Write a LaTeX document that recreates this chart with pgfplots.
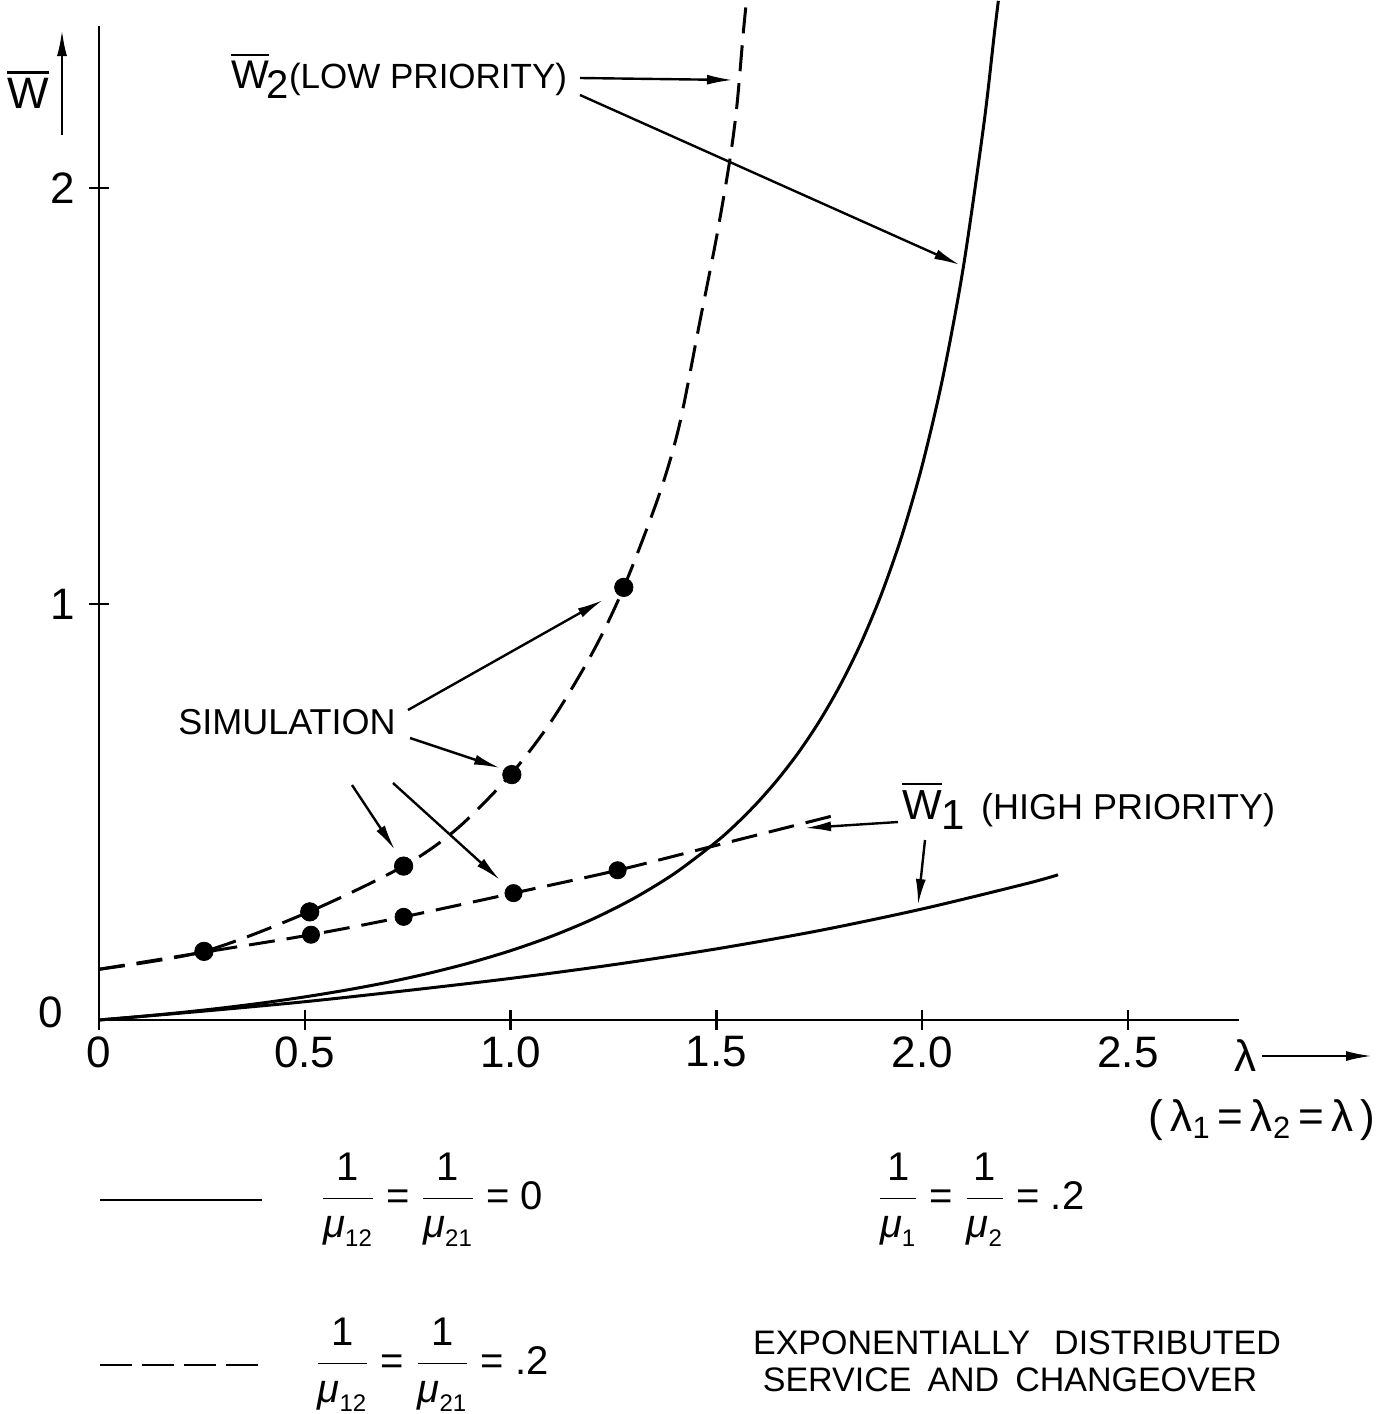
\documentclass[border=0pt]{standalone}
\usepackage{pgfplots}
\pgfplotsset{compat=1.18}
\usepackage{fontspec}
\setmainfont{Liberation Sans}
\usetikzlibrary{arrows.meta}
\newcommand{\Wbar}{\leavevmode\vbox{\hrule height 1.2pt\kern 2.5pt\hbox{W}}}
\newcommand{\fr}[1]{$\displaystyle\frac{\hbox{1}}{\hbox{\itshape μ}_{\hbox{\fontsize{12}{12}\selectfont #1}}}$}
\begin{document}
\begin{tikzpicture}[x=0.5pt,y=-0.5pt,
  ann/.style={line width=1.2pt,-{Latex[length=13pt,width=5pt]}}]
\useasboundingbox (0,0) rectangle (1395,1414);
\coordinate (O) at (99,1020);
\begin{axis}[at={(O)}, anchor=south west, scale only axis,
  width=570.07pt, height=497.1pt,
  xmin=0, xmax=2.77, ymin=0, ymax=2.39,
  axis x line=bottom, axis y line=left,
  axis line style={-, line width=1.4pt},
  clip=false, tick align=center, major tick length=10pt,
  every tick/.style={line width=1.2pt, black},
  xtick={0,0.5,1,1.5,2,2.5}, xticklabels={0,0.5,1.0,1.5,2.0,2.5},
  ytick={1,2}, yticklabels={1,2},
  extra y ticks={0}, extra y tick labels={0},
  extra y tick style={major tick length=0pt, yticklabel style={xshift=-11pt, yshift=4pt}},
  xticklabel style={font=\fontsize{22}{24}\selectfont, anchor=center, yshift=-11pt},
  yticklabel style={font=\fontsize{22}{24}\selectfont, anchor=center, xshift=-13pt},
]
% solid: changeover 0
\addplot[line width=1.5pt, smooth] coordinates {
(0,0) (0.1,0.0085) (0.2,0.0181) (0.3,0.029) (0.4,0.0414) (0.5,0.0556) (0.6,0.0718)
(0.7,0.0904) (0.8,0.112) (0.9,0.1372) (1.0,0.1667) (1.1,0.2015) (1.2,0.2429)
(1.3,0.2928) (1.4,0.3535) (1.5,0.4286) (1.55,0.4729) (1.6,0.5229) (1.65,0.5795)
(1.7,0.6439) (1.75,0.7179) (1.8,0.8036) (1.85,0.9035) (1.9,1.0215) (1.95,1.1624)
(2.0,1.3333) (2.05,1.5443) (2.1,1.8103) (2.15,2.1554) (2.175,2.369) (2.185,2.45)};
\addplot[line width=1.5pt, smooth] coordinates {
(0,0) (0.25,0.021) (0.5,0.044) (0.75,0.071) (1.0,0.1) (1.25,0.133) (1.5,0.171)
(1.75,0.215) (2.0,0.267) (2.25,0.327) (2.33,0.349)};
% dashed: changeover 0.2
\addplot[line width=1.5pt, smooth, dash pattern=on 13pt off 6pt] coordinates {
(0,0.122) (0.255,0.165) (0.51,0.26) (0.74,0.37) (0.87,0.46) (1.0,0.59) (1.1,0.72)
(1.2,0.885) (1.275,1.04) (1.36,1.26) (1.41,1.43) (1.46,1.68) (1.50,1.88)
(1.533,2.07) (1.55,2.2) (1.565,2.37) (1.573,2.45)};
\addplot[line width=1.5pt, smooth, dash pattern=on 13pt off 6pt] coordinates {
(0,0.122) (0.255,0.163) (0.515,0.205) (0.74,0.248) (1.007,0.305) (1.26,0.36)
(1.5,0.42) (1.78,0.49)};
% simulation points
\addplot[only marks, mark=*, mark size=4.6pt, black] coordinates {
(0.255,0.165) (0.512,0.26) (0.74,0.37) (1.003,0.59) (1.275,1.04)};
\addplot[only marks, mark=*, mark size=4.3pt, black] coordinates {
(0.515,0.205) (0.74,0.248) (1.007,0.305) (1.26,0.36)};
\end{axis}
% axis labels
\node[font=\fontsize{22}{24}\selectfont] at (28,90) {\Wbar};
\draw[ann] (62,135) -- (62,30);
\node[font=\fontsize{22}{24}\selectfont] at (1245,1056) {λ};
\draw[ann] (1262,1056) -- (1372,1056);
\node[font=\fontsize{22}{24}\selectfont] at (1262,1120) {(\,λ\textsubscript{1}\,=\,λ\textsubscript{2}\,=\,λ\,)};
% annotations
\node[anchor=west, font=\fontsize{20}{24}\selectfont] at (224,76) {\Wbar\kern-1pt\raisebox{-0.45ex}{2}\fontsize{17.5}{22}\selectfont(LOW PRIORITY)};
\draw[ann] (580,78) -- (733,80);
\draw[ann] (580,95) -- (960,265);
\node[font=\fontsize{18}{22}\selectfont] at (287,722) {SIMULATION};
\draw[ann] (408,710) -- (603,600);
\draw[ann] (410,738) -- (500,768);
\draw[ann] (352,785) -- (395,850);
\draw[ann] (393,783) -- (500,880);
\node[anchor=west, font=\fontsize{21}{24}\selectfont] at (895,806) {\Wbar\raisebox{-0.45ex}{1}\hspace{8pt}\fontsize{18}{22}\selectfont(HIGH PRIORITY)};
\draw[ann] (898,822) -- (805,828);
\draw[ann] (925,840) -- (918,905);
% legend
\draw[line width=1.4pt] (100,1200) -- (262,1200);
\draw[line width=1.4pt, dash pattern=on 16pt off 5pt] (100,1365) -- (262,1365);
\node[font=\fontsize{20}{24}\selectfont] at (432,1200) {\fr{12} = \fr{21} = 0};
\node[font=\fontsize{20}{24}\selectfont] at (432,1365) {\fr{12} = \fr{21} = .2};
\node[font=\fontsize{20}{24}\selectfont] at (981,1200) {\fr{1} = \fr{2} = .2};
\node[font=\fontsize{17}{20}\selectfont] at (1017,1343) {EXPONENTIALLY\hspace{12pt}DISTRIBUTED};
\node[font=\fontsize{17}{20}\selectfont] at (1010,1380) {SERVICE\hspace{8pt}AND\hspace{8pt}CHANGEOVER};
\end{tikzpicture}
\end{document}
